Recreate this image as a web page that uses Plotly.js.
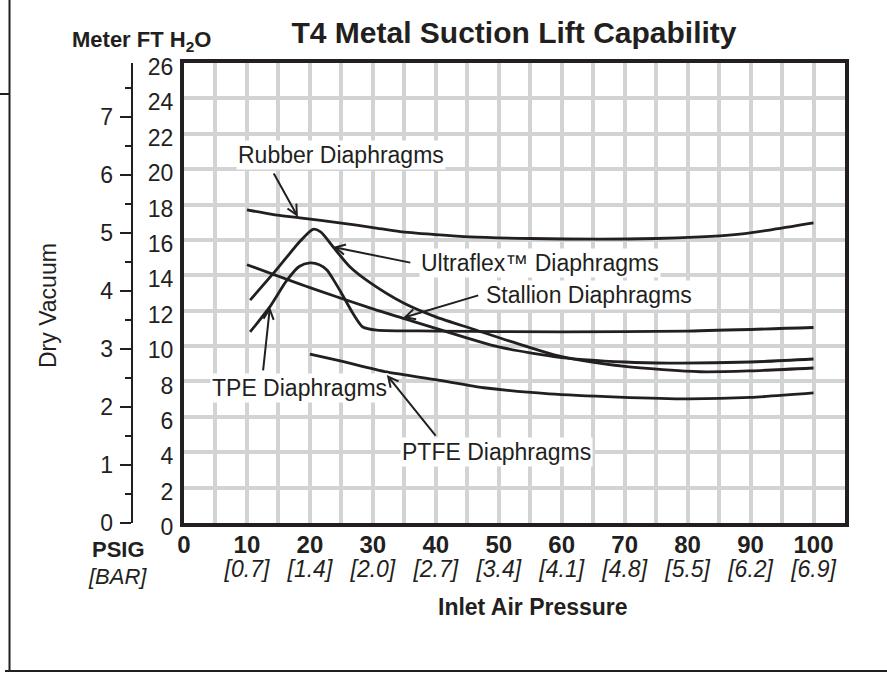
<!DOCTYPE html>
<html><head><meta charset="utf-8">
<script src="https://cdn.plot.ly/plotly-3.0.1.min.js"></script>
<style>html,body{margin:0;padding:0;background:#fff}#chart{width:887px;height:677px}</style>
</head><body><div id="chart"></div>
<script>
// ---- data ----
const pressureTicks = [0, 10, 20, 30, 40, 50, 60, 70, 80, 90, 100];
const pressureLabels = ['0', '10', '20', '30', '40', '50', '60', '70', '80', '90', '100'];
const barTicks = [10, 20, 30, 40, 50, 60, 70, 80, 90, 100];
const barLabels = ['[0.7]', '[1.4]', '[2.0]', '[2.7]', '[3.4]', '[4.1]', '[4.8]', '[5.5]', '[6.2]', '[6.9]'];
const ftTicks = [0, 2, 4, 6, 8, 10, 12, 14, 16, 18, 20, 22, 24, 26];
const meterTicks = [0, 1, 2, 3, 4, 5, 6, 7];

const rubberX = [10, 14, 18.4, 25, 30, 34.3, 40, 45.4, 55, 66, 75, 82, 87, 93, 100];
const rubberY = [17.7, 17.45, 17.25, 16.95, 16.7, 16.47, 16.3, 16.17, 16.08, 16.04, 16.08, 16.17, 16.28, 16.56, 16.96];

const ultraX = [10.5, 15, 18.5, 20.5, 21.7, 23.7, 26.3, 29.5, 34.8, 40, 46, 52, 60, 70, 82, 90, 100];
const ultraY = [12.6, 14.45, 15.95, 16.6, 16.45, 15.6, 14.5, 13.6, 12.45, 11.65, 10.95, 10.25, 9.4, 8.85, 8.55, 8.6, 8.76];

const stallionX = [10, 20, 30, 35, 40, 50, 60, 70, 77, 90, 100];
const stallionY = [14.6, 13.3, 12.1, 11.55, 11.0, 9.95, 9.35, 9.1, 9.04, 9.1, 9.27];

const tpeX = [10.5, 13.6, 16.3, 18.3, 20, 21.5, 22.7, 24, 25, 26.8, 28.4, 30.6, 40, 60, 80, 100];
const tpeY = [10.8, 12.2, 13.7, 14.5, 14.7, 14.6, 14.3, 13.6, 13.0, 11.87, 11.08, 10.9, 10.85, 10.8, 10.85, 11.05];

const ptfeX = [20, 25, 32.2, 40, 48, 58, 69, 80, 90, 100];
const ptfeY = [9.55, 9.15, 8.54, 8.1, 7.63, 7.3, 7.12, 7.02, 7.1, 7.35];

const seriesNames = ['Rubber Diaphragms', 'Ultraflex™ Diaphragms', 'Stallion Diaphragms', 'TPE Diaphragms', 'PTFE Diaphragms'];
const FT_PER_M = 3.2808;

// ---- styling / layout helpers ----
const W = 887, H = 677, ML = 0, MR = 42, MT = 63, MB = 154;
const PW = W - ML - MR, PH = H - MT - MB;
const px = v => (v - ML) / PW;
const py = v => 1 - (v - MT) / PH;
const INK = '#231f20';
const GRID = '#d1d3d4';
const FONT = 'Liberation Sans, Arial, Helvetica, sans-serif';

const lineStyle = {color: INK, width: 2.8, shape: 'spline', smoothing: 0.7};
const mk = (x, y, name, xa, ya) => ({x, y, name, xaxis: xa || 'x', yaxis: ya || 'y', type: 'scatter', mode: 'lines', line: lineStyle, hoverinfo: 'skip', showlegend: false});

const data = [
  mk(rubberX, rubberY, seriesNames[0]),
  mk(ultraX, ultraY, seriesNames[1]),
  mk(stallionX, stallionY, seriesNames[2]),
  // TPE drawn against the metre axis (same scale, converted from feet)
  mk(tpeX, tpeY.map(v => v / FT_PER_M), seriesNames[3], 'x', 'y2'),
  // PTFE drawn against the BAR label axis (same range as PSIG axis)
  mk(ptfeX, ptfeY, seriesNames[4], 'x2', 'y')
];

const labelFont = {family: FONT, size: 23, color: INK};
function label(text, x, y) {
  return {text, x, y, xref: 'x', yref: 'y', showarrow: false, bgcolor: '#ffffff', borderpad: 1, font: labelFont, xanchor: 'center', yanchor: 'middle'};
}
function arrow(hx, hy, tx, ty) {
  return {text: '', x: hx, y: hy, ax: tx, ay: ty, xref: 'x', yref: 'y', axref: 'x', ayref: 'y',
          showarrow: true, arrowhead: 5, arrowsize: 1, arrowwidth: 2, arrowcolor: INK, standoff: 0, startstandoff: 0};
}

const annotations = [
  label(seriesNames[0], 25.0, 20.8),
  label(seriesNames[1], 56.6, 14.7),
  label(seriesNames[2], 64.4, 12.9),
  label(seriesNames[3], 18.4, 7.63),
  label(seriesNames[4], 49.7, 4.0),
  arrow(18.1, 17.3, 14.13, 19.84),
  arrow(23.65, 15.6, 36.19, 14.7),
  arrow(34.76, 11.59, 46.98, 12.89),
  arrow(13.65, 12.21, 12.54, 8.54),
  arrow(32.22, 8.37, 40.16, 4.86),
  {text: '<b>Meter FT H<sub>2</sub>O</b>', xref: 'paper', yref: 'paper', x: px(70), y: py(41), xanchor: 'left', yanchor: 'middle', showarrow: false, font: {family: FONT, size: 22, color: INK}},
  {text: 'Dry Vacuum', xref: 'paper', yref: 'paper', x: px(48), y: py(306), textangle: -90, xanchor: 'center', yanchor: 'middle', showarrow: false, font: {family: FONT, size: 23, color: INK}},
  {text: '<b>PSIG</b>', xref: 'paper', yref: 'paper', x: px(118), y: py(549), xanchor: 'center', yanchor: 'middle', showarrow: false, font: {family: FONT, size: 22, color: INK}},
  {text: '<i>[BAR]</i>', xref: 'paper', yref: 'paper', x: px(117), y: py(576), xanchor: 'center', yanchor: 'middle', showarrow: false, font: {family: FONT, size: 22, color: INK}},
  {text: '<b>Inlet Air Pressure</b>', xref: 'paper', yref: 'paper', x: px(533), y: py(607), xanchor: 'center', yanchor: 'middle', showarrow: false, font: {family: FONT, size: 23, color: INK}}
];

const shapes = [
  {type: 'line', xref: 'paper', yref: 'paper', x0: px(9.5), x1: px(9.5), y0: py(0), y1: py(671), line: {color: INK, width: 2}},
  {type: 'line', xref: 'paper', yref: 'paper', x0: px(5), x1: px(887), y0: py(671), y1: py(671), line: {color: INK, width: 2}},
  {type: 'line', xref: 'paper', yref: 'paper', x0: px(0), x1: px(9.5), y0: py(94), y1: py(94), line: {color: INK, width: 2}}
];

const layout = {
  width: W, height: H,
  margin: {l: ML, r: MR, t: MT, b: MB, pad: 0},
  paper_bgcolor: '#ffffff', plot_bgcolor: '#ffffff',
  showlegend: false,
  font: {family: FONT, color: INK},
  title: {text: '<b>T4 Metal Suction Lift Capability</b>', font: {family: FONT, size: 30, color: INK},
          xref: 'container', yref: 'container', x: 514 / W, y: 1 - 32 / H, xanchor: 'center', yanchor: 'middle'},
  xaxis: {
    domain: [px(184), 1], range: [0, 105], fixedrange: true,
    tickmode: 'array', tickvals: pressureTicks, ticktext: pressureLabels.map(t => '<b>' + t + '</b>'),
    tickfont: {family: FONT, size: 24, color: INK}, ticks: '', ticklabelstandoff: -3,
    showgrid: true, gridcolor: GRID, gridwidth: 4,
    minor: {tick0: 0, dtick: 5, showgrid: true, gridcolor: GRID, gridwidth: 4, ticks: ''},
    showline: true, linecolor: INK, linewidth: 4, mirror: true, zeroline: false
  },
  xaxis2: {
    overlaying: 'x', anchor: 'y', side: 'bottom', range: [0, 105], fixedrange: true,
    tickmode: 'array', tickvals: barTicks, ticktext: barLabels,
    tickfont: {family: FONT, size: 23, color: INK, style: 'italic'}, ticks: '', ticklabelstandoff: 30,
    showgrid: false, showline: false, zeroline: false
  },
  yaxis: {
    domain: [0, 1], range: [0, 26], fixedrange: true,
    tickmode: 'array', tickvals: ftTicks, ticktext: ftTicks.map(String),
    tickfont: {family: FONT, size: 23, color: INK}, ticks: '', ticklabelstandoff: 2, ticklabelshift: 4,
    showgrid: true, gridcolor: GRID, gridwidth: 4,
    showline: true, linecolor: INK, linewidth: 4, mirror: true, zeroline: false
  },
  yaxis2: {
    overlaying: 'y', anchor: 'free', position: px(131.7), side: 'left',
    range: [0, 26 / FT_PER_M], fixedrange: true,
    tickmode: 'array', tickvals: meterTicks, ticktext: meterTicks.map(String),
    tickfont: {family: FONT, size: 23, color: INK}, ticklabelstandoff: 2,
    ticks: 'outside', ticklen: 11, tickwidth: 2, tickcolor: INK,
    minor: {tick0: 0, dtick: 0.5, ticks: 'outside', ticklen: 6, tickwidth: 2, tickcolor: INK, showgrid: false},
    showgrid: false, showline: true, linecolor: INK, linewidth: 2, zeroline: false
  },
  annotations, shapes
};

Plotly.newPlot('chart', data, layout, {staticPlot: true, displayModeBar: false});
</script>
</body></html>
